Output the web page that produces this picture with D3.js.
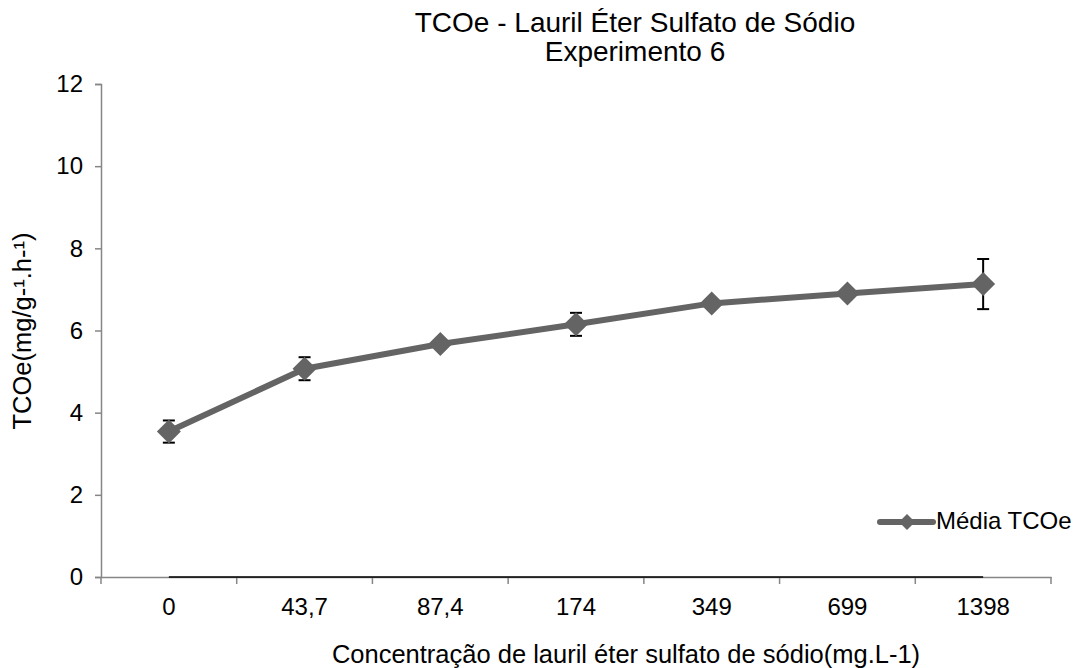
<!DOCTYPE html>
<html>
  <head>
    <meta charset="utf-8">
    <script type="text/javascript" src="https://cdn.jsdelivr.net/npm/d3@7/dist/d3.min.js"></script>
    <style>
      body { margin: 0; background: #fff; }
      text { font-family: "Liberation Sans", Arial, sans-serif; fill: #000; }
    </style>
  </head>
  <body>
    <script type="text/javascript">
      // Data
      var categories = ["0", "43,7", "87,4", "174", "349", "699", "1398"];
      var means = [3.54, 5.07, 5.67, 6.15, 6.66, 6.90, 7.13];
      var errors = [0.27, 0.28, 0.0, 0.28, 0.0, 0.0, 0.61];
      var yTicks = [0, 2, 4, 6, 8, 10, 12];

      var width = 1078;
      var height = 668;
      var svg = d3.select("body")
                  .append("svg")
                  .attr("width", width)
                  .attr("height", height);

      // Plot area
      var plotLeft = 101, plotRight = 1051, plotTop = 84, plotBottom = 577;

      var x = d3.scaleBand()
                .domain(categories)
                .range([plotLeft, plotRight]);
      var y = d3.scaleLinear()
                .domain([0, 12])
                .range([plotBottom, plotTop]);

      var axisColor = "#868686";
      var fontFam = "Liberation Sans, Arial, sans-serif";

      // Y axis
      var yAxis = svg.append("g")
                     .attr("transform", "translate(" + plotLeft + ",0)")
                     .call(d3.axisLeft(y).tickValues(yTicks).tickSize(6).tickPadding(12));
      yAxis.select(".domain").attr("stroke", axisColor).attr("stroke-width", 1.5);
      yAxis.selectAll(".tick line").attr("stroke", axisColor).attr("stroke-width", 1.5);
      yAxis.selectAll(".tick text")
           .attr("fill", "#000")
           .style("font-size", "24px")
           .style("font-family", fontFam);

      // X axis with ticks between categories
      var xAxis = svg.append("g")
                     .attr("transform", "translate(0," + plotBottom + ")")
                     .call(d3.axisBottom(x).tickSize(0).tickPadding(21));
      xAxis.select(".domain").attr("stroke", axisColor).attr("stroke-width", 1.5);
      xAxis.selectAll(".tick text")
           .attr("fill", "#000")
           .style("font-size", "24px")
           .style("font-family", fontFam);
      var bounds = categories.map(function(c) { return x(c); }).concat([plotRight]);
      xAxis.selectAll(".sep")
           .data(bounds)
           .enter()
           .append("line")
           .attr("x1", function(d) { return d; })
           .attr("x2", function(d) { return d; })
           .attr("y1", 0)
           .attr("y2", 7)
           .attr("stroke", axisColor)
           .attr("stroke-width", 1.5);

      var cx = function(c) { return x(c) + x.bandwidth() / 2; };

      // Dark baseline between first and last category
      svg.append("line")
         .attr("x1", cx(categories[0]))
         .attr("x2", cx(categories[categories.length - 1]))
         .attr("y1", y(0))
         .attr("y2", y(0))
         .attr("stroke", "#000")
         .attr("stroke-width", 1.5);

      var lineColor = "#646464";

      // Series line
      var line = d3.line()
                   .x(function(d, i) { return cx(categories[i]); })
                   .y(function(d) { return y(d); });
      svg.append("path")
         .datum(means)
         .attr("d", line)
         .attr("fill", "none")
         .attr("stroke", lineColor)
         .attr("stroke-width", 6)
         .attr("stroke-linejoin", "round");

      // Error bars
      var eb = svg.append("g").attr("stroke", "#000").attr("stroke-width", 2);
      means.forEach(function(m, i) {
        if (errors[i] <= 0) return;
        var px = cx(categories[i]);
        eb.append("line").attr("x1", px).attr("x2", px)
          .attr("y1", y(m + errors[i])).attr("y2", y(m - errors[i]));
        eb.append("line").attr("x1", px - 6).attr("x2", px + 6)
          .attr("y1", y(m + errors[i])).attr("y2", y(m + errors[i]));
        eb.append("line").attr("x1", px - 6).attr("x2", px + 6)
          .attr("y1", y(m - errors[i])).attr("y2", y(m - errors[i]));
      });

      // Diamond markers
      var diamond = function(px, py, r) {
        return "M" + px + "," + (py - r) + "L" + (px + r) + "," + py +
               "L" + px + "," + (py + r) + "L" + (px - r) + "," + py + "Z";
      };
      svg.selectAll(".marker")
         .data(means)
         .enter()
         .append("path")
         .attr("d", function(d, i) { return diamond(cx(categories[i]), y(d), 12); })
         .attr("fill", lineColor);

      // Title
      svg.append("text")
         .attr("x", 635).attr("y", 32)
         .attr("text-anchor", "middle")
         .style("font-size", "28px")
         .text("TCOe - Lauril Éter Sulfato de Sódio");
      svg.append("text")
         .attr("x", 635).attr("y", 61)
         .attr("text-anchor", "middle")
         .style("font-size", "28px")
         .text("Experimento 6");

      // Axis titles
      svg.append("text")
         .attr("transform", "translate(31,331) rotate(-90)")
         .attr("text-anchor", "middle")
         .style("font-size", "25.5px")
         .text("TCOe(mg/g-¹.h-¹)");
      svg.append("text")
         .attr("x", 626).attr("y", 663)
         .attr("text-anchor", "middle")
         .style("font-size", "25.5px")
         .text("Concentração de lauril éter sulfato de sódio(mg.L-1)");

      // Legend
      var lg = svg.append("g");
      lg.append("line")
        .attr("x1", 880).attr("x2", 933)
        .attr("y1", 522).attr("y2", 522)
        .attr("stroke", lineColor)
        .attr("stroke-width", 6)
        .attr("stroke-linecap", "round");
      lg.append("path")
        .attr("d", diamond(907, 522, 8))
        .attr("fill", lineColor);
      lg.append("text")
        .attr("x", 936).attr("y", 529)
        .style("font-size", "24px")
        .text("Média TCOe");
    </script>
  </body>
</html>
